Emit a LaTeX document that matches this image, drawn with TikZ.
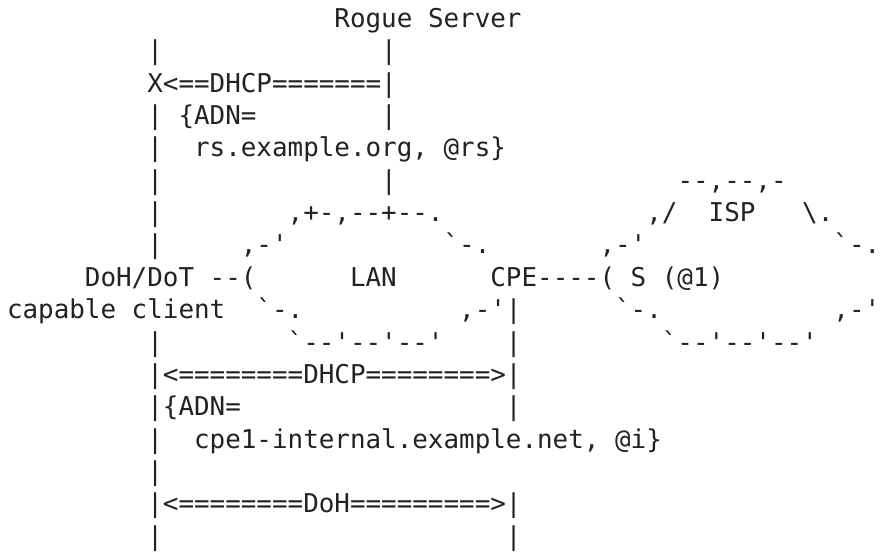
\documentclass[tikz,border=0pt]{standalone}
\usepackage{fontspec}
\setmonofont{DejaVu Sans Mono}
\definecolor{ink}{RGB}{34,34,34}
\newcommand\bl[1]{\hspace*{#1\fontcharwd\font`x}}
\begin{document}
\begin{tikzpicture}[x=1pt,y=1pt,
  asc/.style={anchor=base west, inner sep=0pt, outer sep=0pt,
    font=\ttfamily\fontsize{25.9}{32.4}\selectfont, text=ink}]
\useasboundingbox (0,0) rectangle (887,-552);
\fill[white] (0,0) rectangle (887,-552);
\node[asc] (l1)  at (7,-27.5)  {\bl{21}Rogue Server};
\node[asc] (l2)  at (7,-59.85) {\bl{9}|\bl{14}|};
\node[asc] (l3)  at (7,-92.2)  {\bl{9}X<==DHCP=======|};
\node[asc] (l4)  at (7,-124.55) {\bl{9}|\bl{1}\{ADN=\bl{8}|};
\node[asc] (l5)  at (7,-156.9) {\bl{9}|\bl{2}rs.example.org,\bl{1}@rs\}};
\node[asc] (l6)  at (7,-189.25) {\bl{9}|\bl{14}|\bl{18}--,--,-};
\node[asc] (l7)  at (7,-221.6) {\bl{9}|\bl{8},+-,--+--.\bl{13},/\bl{2}ISP\bl{3}\textbackslash.};
\node[asc] (l8)  at (7,-253.95) {\bl{9}|\bl{5},-'\bl{10}`-.\bl{7},-'\bl{12}`-.};
\node[asc] (l9)  at (7,-286.3) {\bl{5}DoH/DoT\bl{1}--(\bl{6}LAN\bl{6}CPE----(\bl{1}S\bl{1}(@1)};
\node[asc] (l10) at (7,-318.65) {capable\bl{1}client\bl{2}`-.\bl{10},-'|\bl{6}`-.\bl{11},-'};
\node[asc] (l11) at (7,-351.0) {\bl{9}|\bl{8}`--'--'--'\bl{4}|\bl{9}`--'--'--'};
\node[asc] (l12) at (7,-383.35) {\bl{9}|<========DHCP========>|};
\node[asc] (l13) at (7,-415.7) {\bl{9}|\{ADN=\bl{17}|};
\node[asc] (l14) at (7,-448.05) {\bl{9}|\bl{2}cpe1-internal.example.net,\bl{1}@i\}};
\node[asc] (l15) at (7,-480.4) {\bl{9}|};
\node[asc] (l16) at (7,-512.75) {\bl{9}|<========DoH=========>|};
\node[asc] (l17) at (7,-545.1) {\bl{9}|\bl{22}|};
\end{tikzpicture}
\end{document}
